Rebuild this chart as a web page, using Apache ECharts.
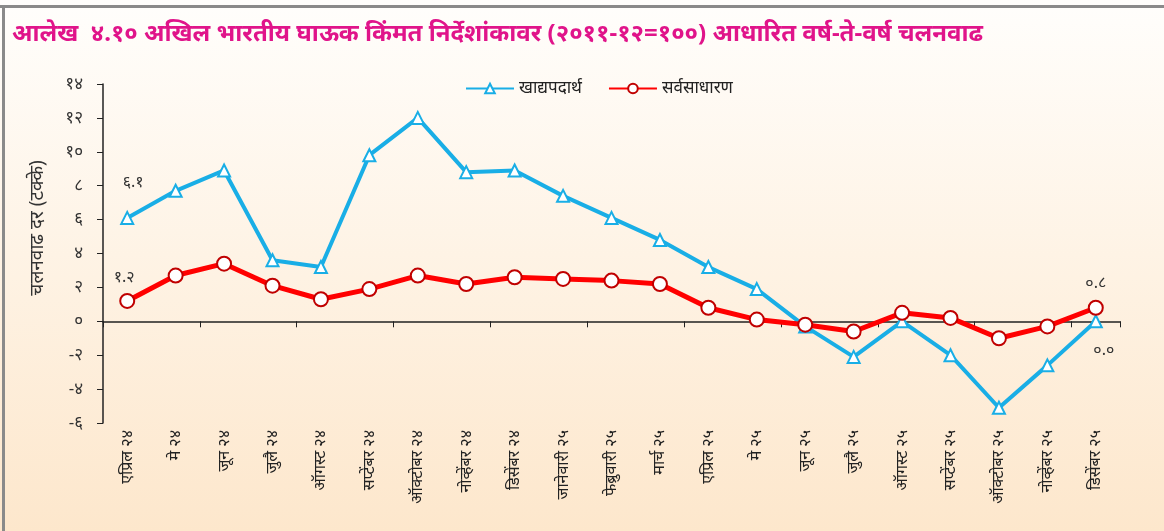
<!DOCTYPE html>
<html>
<head>
<meta charset="utf-8">
<script src="https://cdn.jsdelivr.net/npm/echarts@6/dist/echarts.min.js"></script>
<style>
  html, body { margin: 0; padding: 0; }
  #chart { width: 1164px; height: 531px; }
</style>
</head>
<body>
<div id="chart"></div>
<script>
// महिने
const months = ['एप्रिल २४', 'मे २४', 'जून २४', 'जुलै २४', 'ऑगस्ट २४', 'सप्टेंबर २४', 'ऑक्टोबर २४',
  'नोव्हेंबर २४', 'डिसेंबर २४', 'जानेवारी २५', 'फेब्रुवारी २५', 'मार्च २५', 'एप्रिल २५', 'मे २५',
  'जून २५', 'जुलै २५', 'ऑगस्ट २५', 'सप्टेंबर २५', 'ऑक्टोबर २५', 'नोव्हेंबर २५', 'डिसेंबर २५']

// खाद्यपदार्थ (blue)
const foodValues = [6.1, 7.7, 8.9, 3.6, 3.2, 9.8, 12.0, 8.8, 8.9, 7.4, 6.1, 4.8, 3.2, 1.9,
  -0.3, -2.1, 0.0, -2.0, -5.1, -2.6, 0.0]
// सर्वसाधारण (red)
const allValues = [1.2, 2.7, 3.4, 2.1, 1.3, 1.9, 2.7, 2.2, 2.6, 2.5, 2.4, 2.2, 0.8, 0.1,
  -0.2, -0.6, 0.5, 0.2, -1.0, -0.3, 0.8]

const yTicks = { min: -6, max: 14, step: 2 }

const devaDigits = ['०', '१', '२', '३', '४', '५', '६', '७', '८', '९']
const toDeva = (v) => String(v).replace(/[0-9]/g, d => devaDigits[+d])

const chart = echarts.init(document.getElementById('chart'))

// only first and last points carry a value label
const labelled = (arr, pos, dist) => arr.map((v, i) => {
  if (i === 0 || i === arr.length - 1) {
    return {
      value: v,
      label: {
        show: true,
        position: pos,
        distance: dist,
        color: '#333333',
        fontSize: 16,
        formatter: () => toDeva(v.toFixed(1))
      }
    }
  }
  return v
})

const foodData = labelled(foodValues, 'top', 12)
foodData[foodData.length - 1].label.position = 'bottom'
foodData[foodData.length - 1].label.distance = 14
foodData[foodData.length - 1].label.offset = [8, 0]
foodData[0].label.distance = 20
foodData[0].label.offset = [6, 0]
const allData = labelled(allValues, 'top', 8)
allData[0].label.offset = [-3, 0]

const option = {
  backgroundColor: {
    type: 'linear', x: 0, y: 0, x2: 0, y2: 1,
    colorStops: [
      { offset: 0, color: '#fffefc' },
      { offset: 1, color: '#fde7cc' }
    ]
  },
  textStyle: { fontFamily: 'Noto Sans, sans-serif' },
  title: {
    text: 'आलेख  ४.१० अखिल भारतीय घाऊक किंमत निर्देशांकावर (२०११-१२=१००) आधारित वर्ष-ते-वर्ष चलनवाढ',
    left: 7,
    top: 17,
    textStyle: { color: '#e0148a', fontSize: 24, fontWeight: 'bold' }
  },
  graphic: [
    { type: 'rect', shape: { x: 0, y: 5, width: 1164, height: 3 }, style: { fill: '#8a8a8a' } },
    { type: 'rect', shape: { x: 2, y: 5, width: 3, height: 526 }, style: { fill: '#8a8a8a' } },
    {
      type: 'text',
      x: 38,
      y: 228,
      rotation: Math.PI / 2,
      style: {
        text: 'चलनवाढ दर (टक्के)',
        fill: '#333333',
        fontSize: 19,
        fontFamily: 'Noto Sans, sans-serif',
        align: 'center',
        verticalAlign: 'middle'
      }
    }
  ],
  legend: {
    top: 75,
    left: 460,
    itemWidth: 48,
    itemHeight: 12,
    itemGap: 26,
    textStyle: { color: '#222222', fontSize: 17 },
    data: ['खाद्यपदार्थ', 'सर्वसाधारण']
  },
  grid: { left: 103, right: 44, top: 84, bottom: 108 },
  xAxis: [
    {
      type: 'category',
      data: months,
      axisLine: { onZero: true, lineStyle: { color: '#222222', width: 1.5 } },
      axisTick: { show: true, inside: false, length: 6, lineStyle: { color: '#222222' } },
      axisLabel: { show: false },
      splitLine: { show: false }
    },
    {
      type: 'category',
      data: months,
      position: 'bottom',
      axisLine: { show: false },
      axisTick: { show: false },
      axisLabel: { rotate: 90, color: '#222222', fontSize: 16, margin: 7 },
      splitLine: { show: false }
    }
  ],
  yAxis: {
    type: 'value',
    min: yTicks.min,
    max: yTicks.max,
    interval: yTicks.step,
    axisLine: { show: true, lineStyle: { color: '#222222', width: 1.5 } },
    axisTick: { show: true, length: 6, lineStyle: { color: '#222222' } },
    axisLabel: { color: '#333333', fontSize: 17, margin: 20, formatter: v => (v < 0 ? '-' : '') + toDeva(Math.abs(v)) },
    splitLine: { show: false }
  },
  series: [
    {
      name: 'खाद्यपदार्थ',
      type: 'line',
      xAxisIndex: 0,
      data: foodData,
      symbol: 'triangle',
      symbolSize: 12,
      lineStyle: { color: '#19aee6', width: 4 },
      itemStyle: { color: '#ffffff', borderColor: '#19aee6', borderWidth: 2 },
      z: 2
    },
    {
      name: 'सर्वसाधारण',
      type: 'line',
      xAxisIndex: 0,
      data: allData,
      symbol: 'circle',
      symbolSize: 14,
      lineStyle: { color: '#ff0000', width: 5 },
      itemStyle: { color: '#ffffff', borderColor: '#c00000', borderWidth: 2 },
      z: 3
    }
  ]
}

chart.setOption(option)
</script>
</body>
</html>
